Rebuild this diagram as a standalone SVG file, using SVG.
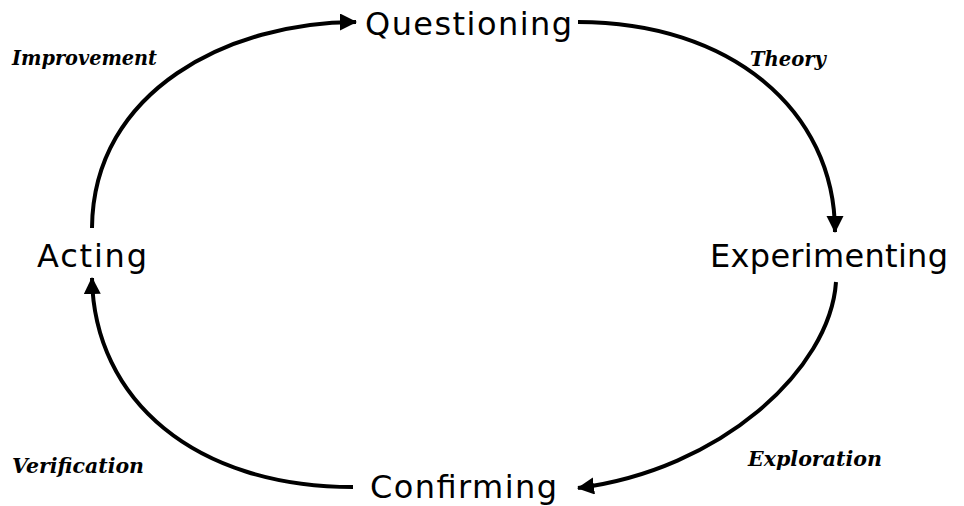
<svg xmlns="http://www.w3.org/2000/svg" width="964" height="506" viewBox="0 0 964 506">
<defs>
<marker id="ah" markerUnits="userSpaceOnUse" markerWidth="18" markerHeight="18" refX="16" refY="8.5" orient="auto">
<path d="M0,0 L17,8.5 L0,17 Z" fill="#000"/>
</marker>
<style>
.node{font-family:"DejaVu Sans",Verdana,sans-serif;font-size:32px;fill:#000}
.lbl{font-family:"DejaVu Serif","Liberation Serif",serif;font-size:20px;font-weight:bold;font-style:italic;fill:#000}
.c{fill:none;stroke:#000;stroke-width:4;marker-end:url(#ah)}
</style>
</defs>
<rect width="964" height="506" fill="#fff"/>
<g id="connectors">
<path class="c" d="M92,228 C93,90 230,22 356,22"/>
<path class="c" d="M578,22 C730,22 835,110 835,232"/>
<path class="c" d="M836,282 C830,370 720,470 578,488"/>
<path class="c" d="M353,487 C195,487 94,400 92,278"/>
</g>
<g id="questioning"><text class="node" x="365" y="35" textLength="207" lengthAdjust="spacing">Questioning</text></g>
<g id="experimenting"><text class="node" x="710" y="267" textLength="238" lengthAdjust="spacing">Experimenting</text></g>
<g id="confirming"><text class="node" x="370" y="498" textLength="187" lengthAdjust="spacing">Confirming</text></g>
<g id="acting"><text class="node" x="37" y="267" textLength="110" lengthAdjust="spacing">Acting</text></g>
<g id="improvement"><text class="lbl" x="12" y="65" textLength="145" lengthAdjust="spacingAndGlyphs">Improvement</text></g>
<g id="theory"><text class="lbl" x="750" y="66" textLength="76" lengthAdjust="spacingAndGlyphs">Theory</text></g>
<g id="verification"><text class="lbl" x="12" y="473" textLength="132" lengthAdjust="spacingAndGlyphs">Verification</text></g>
<g id="exploration"><text class="lbl" x="748" y="466" textLength="134" lengthAdjust="spacingAndGlyphs">Exploration</text></g>
</svg>
